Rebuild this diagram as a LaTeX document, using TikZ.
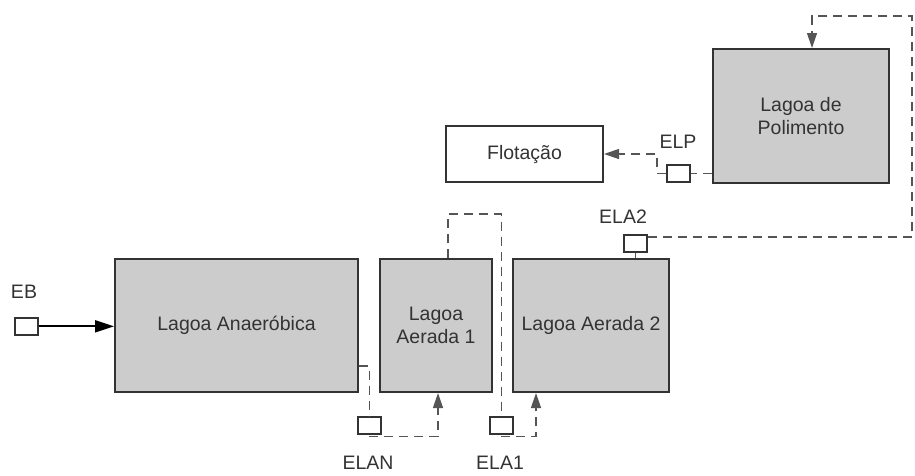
\documentclass[tikz,border=0pt]{standalone}
\usepackage{fontspec}
\setmainfont{Liberation Sans}
\usetikzlibrary{arrows.meta}
\definecolor{cinza}{HTML}{CCCCCC}
\definecolor{borda}{HTML}{333333}
\definecolor{traco}{HTML}{555555}

\tikzstyle{lagoa} = [draw=borda, line width=2pt, fill=cinza, text=borda, inner sep=0pt, anchor=north west, align=center, font=\fontsize{19.5}{23}\selectfont]
\tikzstyle{caixa} = [draw=borda, line width=2pt, fill=white, text=borda, inner sep=0pt, anchor=north west, font=\fontsize{19.5}{23}\selectfont]
\tikzstyle{ponto} = [draw=borda, line width=1.6pt, fill=white, inner sep=0pt, anchor=north west, minimum width=23pt, minimum height=17pt]
\tikzstyle{rot} = [text=borda, inner sep=0pt, font=\fontsize{19.5}{23}\selectfont]
\tikzstyle{fluxo} = [draw=traco, line width=1.3pt, dash pattern=on 9pt off 6pt]
\tikzstyle{seta} = [-{Triangle[length=15pt,width=10pt]}]

\begin{document}
\begin{tikzpicture}[x=1pt, y=-1pt]
\useasboundingbox (0,0) rectangle (915,475);

\node[lagoa, minimum width=243pt, minimum height=133pt] (anaer) at (114,258) {Lagoa Anaeróbica};
\node[lagoa, minimum width=112pt, minimum height=133pt] (aer1) at (379,258) {Lagoa\\Aerada 1};
\node[lagoa, minimum width=156pt, minimum height=133pt] (aer2) at (512,258) {Lagoa Aerada 2};
\node[lagoa, minimum width=176pt, minimum height=134pt] (polim) at (712,48) {Lagoa de\\Polimento};
\node[caixa, minimum width=157pt, minimum height=56pt] (flot) at (445,125) {Flotação};

\node[ponto] (eb) at (14,317) {};
\node[ponto] (elan) at (357,416) {};
\node[ponto] (ela1) at (489,416) {};
\node[ponto] (ela2) at (623,234) {};
\node[ponto] (elp) at (666,164) {};

\node[rot] (eblab) at (24,292) {EB};
\node[rot] (elanlab) at (368,463) {ELAN};
\node[rot] (ela1lab) at (500,463) {ELA1};
\node[rot] (ela2lab) at (623,217) {ELA2};
\node[rot] (elplab) at (678,142) {ELP};

\coordinate (canto) at (912,16);

\draw[-{Triangle[length=19pt,width=12pt]}, line width=2pt, black] (eb.east) -- (anaer.west |- eb.east);
\draw[fluxo] ([yshift=27pt]anaer.south east) -| (elan.north);
\draw[fluxo, seta] ([yshift=-2pt]elan.south) -| ([xshift=2pt]aer1.south);
\draw[fluxo] ([xshift=12pt]aer1.north) -- ++(0,-44) -| (ela1.north);
\draw[fluxo, seta] ([yshift=-2pt]ela1.south) -| ([xshift=-55pt]aer2.south);
\draw[traco, line width=1.3pt] (ela2.south) -- (ela2.south |- aer2.north);
\draw[fluxo, seta] ([yshift=-3pt]ela2.north east) -| (canto) -| ([xshift=11pt]polim.north);
\draw[fluxo] (polim.west |- elp.east) -- (elp.east);
\draw[fluxo, seta] (elp.west) -- ++(-9,0) |- (flot.east);
\end{tikzpicture}
\end{document}
